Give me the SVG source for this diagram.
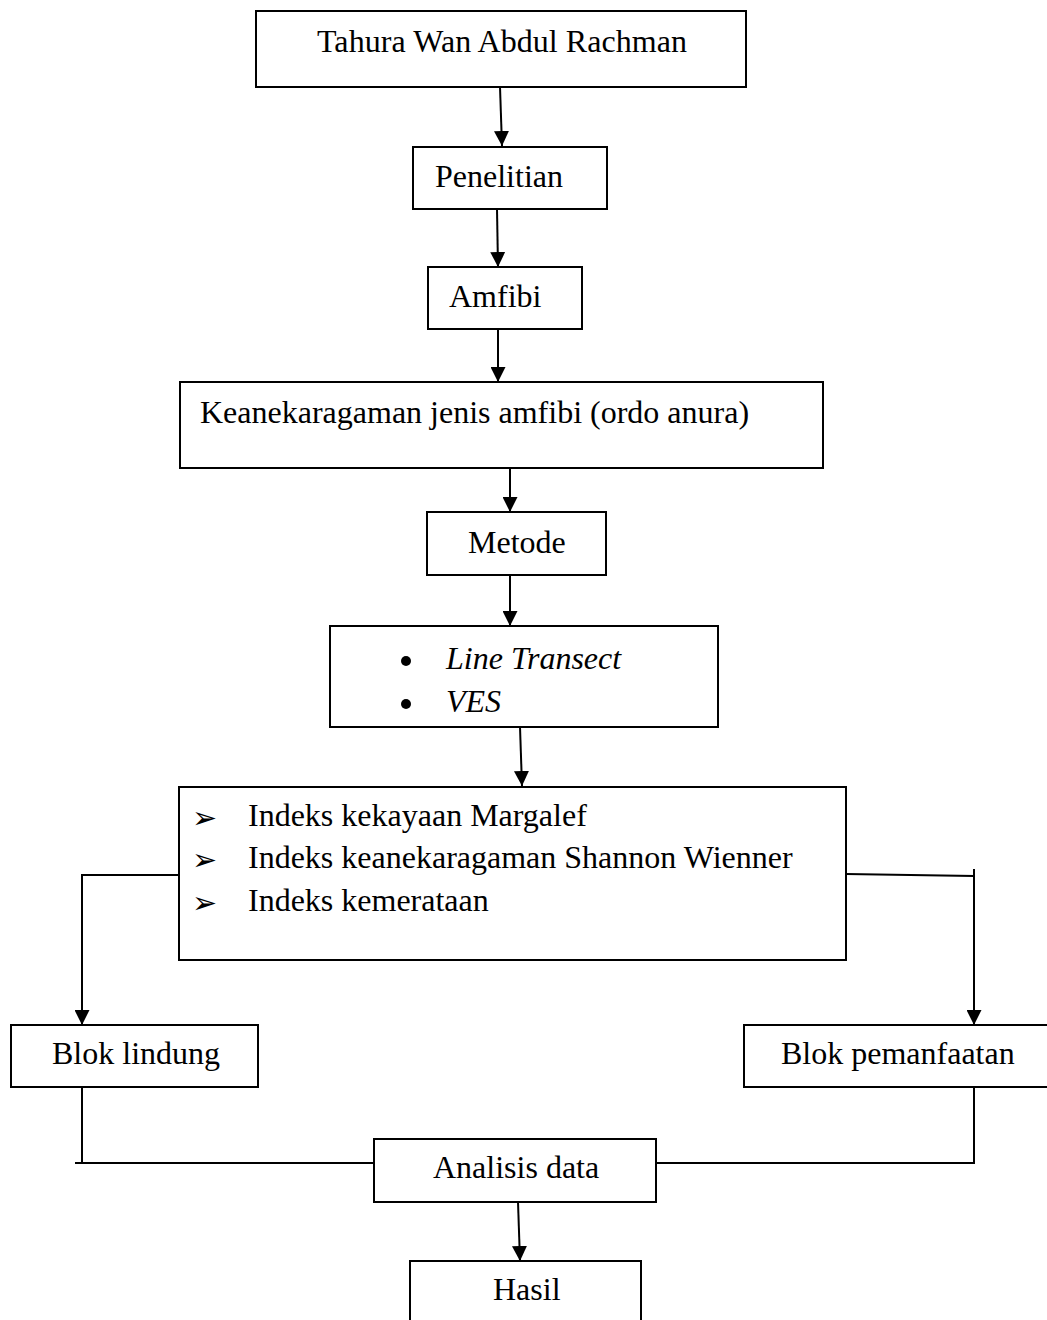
<svg xmlns="http://www.w3.org/2000/svg" width="1047" height="1320" viewBox="0 0 1047 1320">
<style>
.box{fill:#fff;stroke:#000;stroke-width:2}
.t{font-family:"Liberation Serif","Times New Roman",serif;font-size:32px;fill:#000}
.i{font-style:italic}
.c{fill:none;stroke:#000;stroke-width:2}
.sym{font-family:"DejaVu Sans",sans-serif;font-size:30px;fill:#000}
</style>
<defs>
<marker id="ah" viewBox="0 0 15 15" refX="15" refY="7.5" markerWidth="15" markerHeight="15" markerUnits="userSpaceOnUse" orient="auto">
<path d="M0,0 L15,7.5 L0,15 Z" fill="#000"/>
</marker>
</defs>
<rect width="1047" height="1320" fill="#fff"/>
<g id="connectors">
<line class="c" x1="500" y1="87" x2="502" y2="146" marker-end="url(#ah)"/>
<line class="c" x1="497" y1="209" x2="498" y2="267" marker-end="url(#ah)"/>
<line class="c" x1="498" y1="329" x2="498" y2="382" marker-end="url(#ah)"/>
<line class="c" x1="510" y1="458" x2="510" y2="512" marker-end="url(#ah)"/>
<line class="c" x1="510" y1="575" x2="510" y2="626" marker-end="url(#ah)"/>
<line class="c" x1="520" y1="727" x2="522" y2="786" marker-end="url(#ah)"/>
<polyline class="c" points="179,875 82,875 82,1025" marker-end="url(#ah)"/>
<polyline class="c" points="846,874 974,876 974,1025" marker-end="url(#ah)"/>
<line class="c" x1="974" y1="869" x2="974" y2="877"/>
<polyline class="c" points="82,1087 82,1163 75,1163 374,1163"/>
<polyline class="c" points="974,1087 974,1163 656,1163"/>
<line class="c" x1="518" y1="1202" x2="520" y2="1261" marker-end="url(#ah)"/>
</g>
<g id="n-tahura">
<rect class="box" x="256" y="11" width="490" height="76"/>
<text class="t" x="317" y="52" textLength="370">Tahura Wan Abdul Rachman</text>
</g>
<g id="n-penelitian">
<rect class="box" x="413" y="147" width="194" height="62"/>
<text class="t" x="435" y="187">Penelitian</text>
</g>
<g id="n-amfibi">
<rect class="box" x="428" y="267" width="154" height="62"/>
<text class="t" x="449" y="307">Amfibi</text>
</g>
<g id="n-keanekaragaman">
<rect class="box" x="180" y="382" width="643" height="86"/>
<text class="t" x="200" y="423">Keanekaragaman jenis amfibi (ordo anura)</text>
</g>
<g id="n-metode">
<rect class="box" x="427" y="512" width="179" height="63"/>
<text class="t" x="468" y="553">Metode</text>
</g>
<g id="n-methods">
<rect class="box" x="330" y="626" width="388" height="101"/>
<circle cx="406" cy="661" r="5"/>
<circle cx="406" cy="704" r="5"/>
<text class="t i" x="446" y="669">Line Transect</text>
<text class="t i" x="446" y="712">VES</text>
</g>
<g id="n-indeks">
<rect class="box" x="179" y="787" width="667" height="173"/>
<text class="sym" x="192" y="828">➢</text>
<text class="sym" x="192" y="870">➢</text>
<text class="sym" x="192" y="913">➢</text>
<text class="t" x="248" y="826">Indeks kekayaan Margalef</text>
<text class="t" x="248" y="868">Indeks keanekaragaman Shannon Wienner</text>
<text class="t" x="248" y="911">Indeks kemerataan</text>
</g>
<g id="n-blok-lindung">
<rect class="box" x="11" y="1025" width="247" height="62"/>
<text class="t" x="52" y="1064">Blok lindung</text>
</g>
<g id="n-blok-pemanfaatan">
<rect class="box" x="744" y="1025" width="310" height="62"/>
<text class="t" x="781" y="1064">Blok pemanfaatan</text>
</g>
<g id="n-analisis">
<rect class="box" x="374" y="1139" width="282" height="63"/>
<text class="t" x="433" y="1178">Analisis data</text>
</g>
<g id="n-hasil">
<rect class="box" x="410" y="1261" width="231" height="70"/>
<text class="t" x="493" y="1300">Hasil</text>
</g>
</svg>
